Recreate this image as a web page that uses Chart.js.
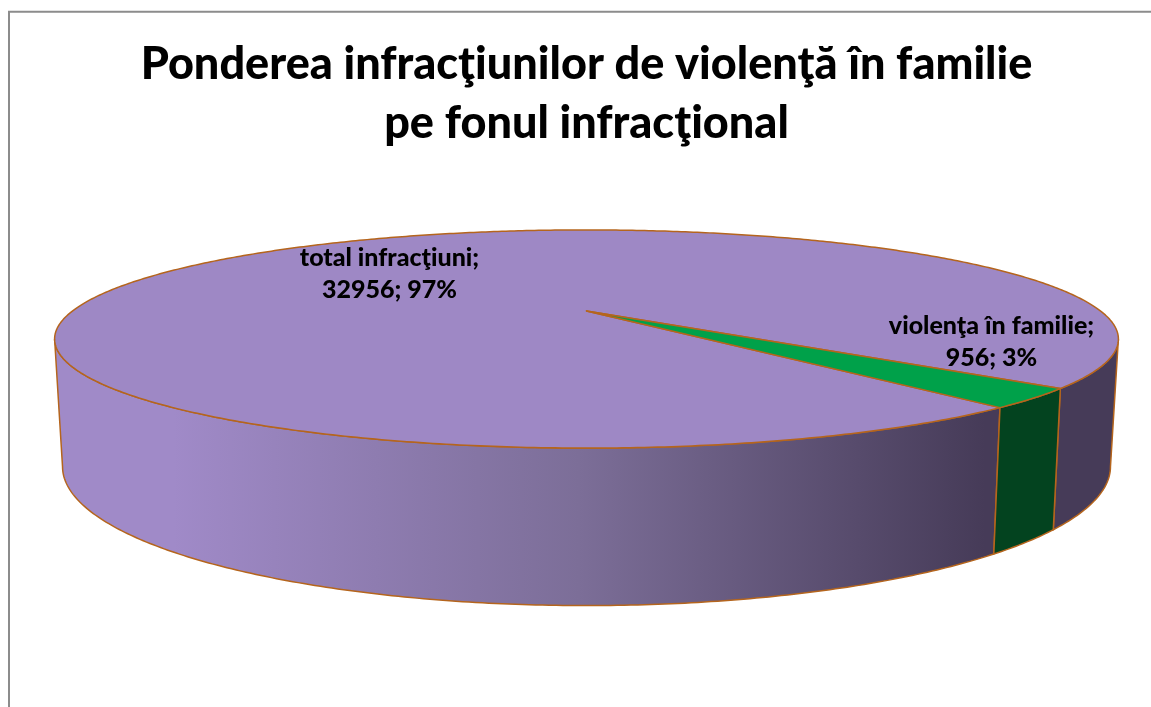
<!DOCTYPE html>
<html><head><meta charset="utf-8">
<style>html,body{margin:0;padding:0;background:#fff;overflow:hidden}canvas{display:block}</style>
<script src="https://cdn.jsdelivr.net/npm/chart.js@4"></script>
</head><body>
<canvas id="c" width="1151" height="707"></canvas>
<script>
const categories = ['total infracţiuni', 'violenţa în familie'];
const values = [32956, 956];
const titleLines = ['Ponderea infracţiunilor de violenţă în familie', 'pe fonul infracţional'];
const sliceColors = ['#9E88C5', '#00A14A'];
const wallColors = ['#463B58', '#03431F'];
const wallLight = '#A08AC8';
const wallMid = '#7C6E98';
const edgeColor = '#B5651D';

// perspective of the disc, as multiples of the pie radius computed by the library
const K = 0.2568, SX_TOP = 3.421, SY_TOP = 0.678, SX_BOT = 3.37, SY_BOT = 0.864, DROP = 0.798;
const TAU = Math.PI * 2;
const project = (a, th, bottom) => {
  const r = a.outerRadius, u = Math.cos(th), v = Math.sin(th), w = 1 - K * v;
  return bottom
    ? [a.x + SX_BOT * r * u / w, a.y + DROP * r + SY_BOT * r * v / w]
    : [a.x + SX_TOP * r * u / w, a.y + SY_TOP * r * v / w];
};
const samples = (from, to) => {
  const n = Math.max(2, Math.ceil(Math.abs(to - from) / 0.01)), out = [];
  for (let i = 0; i <= n; i++) out.push(from + (to - from) * i / n);
  return out;
};
const perspectivePie = {
  id: 'perspectivePie',
  beforeDraw(chart) {
    const ctx = chart.ctx;
    ctx.save();
    ctx.strokeStyle = '#8C8C8C'; ctx.lineWidth = 2;
    ctx.beginPath(); ctx.moveTo(9, 707); ctx.lineTo(9, 11.8); ctx.lineTo(1151, 11.8); ctx.stroke();
    ctx.restore();
  },
  beforeDatasetDraw(chart, args) {
    const ctx = chart.ctx, arcs = args.meta.data;
    const vis0 = Math.asin(K), vis1 = Math.PI - vis0;
    ctx.save();
    ctx.lineJoin = 'round';
    arcs.forEach((a, i) => {
      const s = a.startAngle, e = a.endAngle;
      ctx.strokeStyle = a.options.borderColor; ctx.lineWidth = a.options.borderWidth;
      [0, TAU].forEach(shift => {
        const from = Math.max(s, vis0 + shift), to = Math.min(e, vis1 + shift);
        if (to <= from) return;
        const ths = samples(from, to);
        ctx.beginPath();
        ths.forEach((t, j) => { const p = project(a, t, false); j ? ctx.lineTo(p[0], p[1]) : ctx.moveTo(p[0], p[1]); });
        ths.slice().reverse().forEach(t => { const p = project(a, t, true); ctx.lineTo(p[0], p[1]); });
        ctx.closePath();
        if (i === 0 && shift === 0) {
          const g = ctx.createLinearGradient(a.x - 2.75 * a.outerRadius, 0, a.x + 2.65 * a.outerRadius, 0);
          g.addColorStop(0, wallLight); g.addColorStop(0.5, wallMid); g.addColorStop(1, wallColors[0]);
          ctx.fillStyle = g;
        } else ctx.fillStyle = wallColors[i];
        ctx.fill(); ctx.stroke();
      });
    });
    arcs.forEach(a => {
      ctx.strokeStyle = a.options.borderColor; ctx.lineWidth = a.options.borderWidth;
      ctx.fillStyle = a.options.backgroundColor;
      ctx.beginPath(); ctx.moveTo(a.x, a.y);
      samples(a.startAngle, a.endAngle).forEach(t => { const p = project(a, t, false); ctx.lineTo(p[0], p[1]); });
      ctx.closePath(); ctx.fill(); ctx.stroke();
    });
    ctx.restore();
    return false;
  },
  afterDatasetsDraw(chart) {
    const ctx = chart.ctx, arcs = chart.getDatasetMeta(0).data, total = values.reduce((x, y) => x + y, 0);
    const offs = [[-197, -53], [405, 15]];
    ctx.save();
    ctx.fillStyle = '#000'; ctx.font = '900 25px Lato'; ctx.textAlign = 'center'; ctx.textBaseline = 'middle';
    arcs.forEach((a, i) => {
      const x = a.x + offs[i][0], y = a.y + offs[i][1];
      ctx.fillText(categories[i] + ';', x, y);
      ctx.fillText(values[i] + '; ' + Math.round(values[i] / total * 100) + '%', x, y + 32);
    });
    ctx.restore();
  }
};
new Chart(document.getElementById('c'), {
  type: 'pie',
  data: { labels: categories, datasets: [{ data: values, backgroundColor: sliceColors, borderColor: edgeColor, borderWidth: 1.5 }] },
  options: {
    responsive: false, animation: false, rotation: 139.7,
    layout: { padding: { left: 22, right: 0, top: 0, bottom: 245 } },
    plugins: {
      legend: { display: false }, tooltip: { enabled: false },
      title: { display: true, text: titleLines, color: '#000', font: { family: 'Lato', size: 45, weight: '900', lineHeight: 1.333 }, padding: { top: 34, bottom: 6 } }
    }
  },
  plugins: [perspectivePie]
});
</script>
</body></html>
